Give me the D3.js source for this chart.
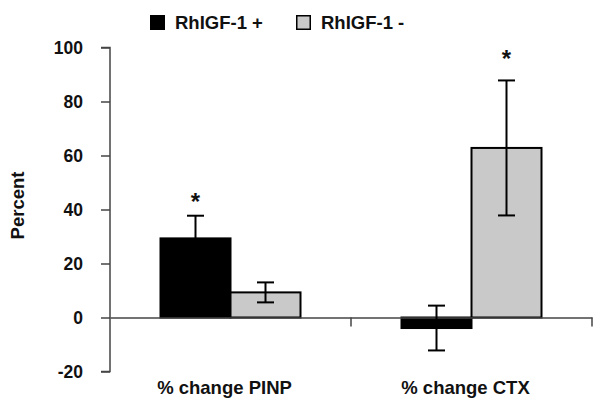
<!DOCTYPE html>
<html><head><meta charset="utf-8">
<script src="https://cdn.jsdelivr.net/npm/d3@7"></script>
<style>body{margin:0;background:#fff}svg{display:block}text{font-family:"Liberation Sans",Arial,sans-serif;font-weight:bold;fill:#111}</style>
</head><body><svg id="c" width="602" height="408"></svg>
<script>
const categories = ["% change PINP", "% change CTX"];
const seriesNames = ["RhIGF-1 +", "RhIGF-1 -"];
const seriesColors = ["#000000", "#c9c9c9"];
const meansPlus = [29.3, -3.9];
const errPlus = [8.4, 8.3];
const meansMinus = [9.3, 62.8];
const errMinus = [3.7, 25.0];
const significant = [[true, false], [false, true]]; // [category][series]
const sigMarkValue = [[44.6, null], [null, 97.6]];
const yTicks = [-20, 0, 20, 40, 60, 80, 100];
const yTickLabels = ["-20", "0", "20", "40", "60", "80", "100"];

const svg = d3.select("#c");
const x0 = d3.scaleBand().domain(categories).range([110, 592]);
const x1 = d3.scaleBand().domain(seriesNames).range([0, 140]);
const y = d3.scaleLinear().domain([-20, 100]).range([371.5, 47.5]);

const data = categories.map((c, i) => [
  {cat: c, s: seriesNames[0], v: meansPlus[i], e: errPlus[i], sig: significant[i][0], m: sigMarkValue[i][0], col: seriesColors[0]},
  {cat: c, s: seriesNames[1], v: meansMinus[i], e: errMinus[i], sig: significant[i][1], m: sigMarkValue[i][1], col: seriesColors[1]}
]).flat();
const bx = d => x0(d.cat) + (x0.bandwidth() - 140) / 2 + x1(d.s);

// y axis
const ya = svg.append("g").attr("transform", "translate(110,0)")
  .call(d3.axisLeft(y).tickValues(yTicks).tickSize(9).tickPadding(18).tickFormat((d, i) => yTickLabels[i]));
ya.select(".domain").attr("stroke", "#444").attr("stroke-width", 1.5).attr("d", `M-9,${y(100)}H0V${y(-20)}H-9`);
ya.selectAll(".tick line").attr("stroke", "#444").attr("stroke-width", 1.5);
ya.selectAll(".tick text").attr("font-size", 17.5).attr("font-family", "Liberation Sans, Arial, sans-serif").attr("font-weight", "bold").attr("fill", "#111");

// bars
svg.selectAll("rect.bar").data(data).join("rect").attr("class", "bar")
  .attr("x", bx).attr("width", x1.bandwidth())
  .attr("y", d => y(Math.max(0, d.v))).attr("height", d => Math.abs(y(d.v) - y(0)))
  .attr("fill", d => d.col).attr("stroke", "#000").attr("stroke-width", 2);

// x axis (at zero)
const xa = svg.append("g").attr("transform", `translate(0,${y(0)})`)
  .call(d3.axisBottom(x0).tickValues([]).tickSizeOuter(0));
xa.select(".domain").attr("stroke", "#444").attr("stroke-width", 1.5);
[x0.range()[0] + x0.bandwidth(), x0.range()[1]].forEach(px => {
  xa.append("line").attr("x1", px).attr("x2", px).attr("y1", 0).attr("y2", 9).attr("stroke", "#444").attr("stroke-width", 1.5);
});

// error bars
const eg = svg.selectAll("g.err").data(data).join("g").attr("class", "err");
eg.each(function(d) {
  const g = d3.select(this), cx = bx(d) + x1.bandwidth() / 2;
  const oneSided = d.s === seriesNames[0] && d.v >= 0;
  g.append("line").attr("x1", cx).attr("x2", cx)
    .attr("y1", oneSided ? y(d.v) : y(d.v - d.e)).attr("y2", y(d.v + d.e))
    .attr("stroke", "#000").attr("stroke-width", 2);
  const ends = oneSided ? [d.v + d.e] : [d.v + d.e, d.v - d.e];
  ends.forEach(v => g.append("line").attr("x1", cx - 8.5).attr("x2", cx + 8.5).attr("y1", y(v)).attr("y2", y(v))
    .attr("stroke", "#000").attr("stroke-width", 2));
  if (d.sig) g.append("text").attr("x", cx).attr("y", y(d.m) + 13).attr("text-anchor", "middle")
    .attr("font-size", 24).text("*");
});

// category labels
svg.selectAll("text.cat").data(categories).join("text").attr("class", "cat")
  .attr("x", d => x0(d) + x0.bandwidth() / 2 - 6).attr("y", 394).attr("text-anchor", "middle")
  .attr("font-size", 18.5).text(d => d);

// y label
svg.append("text").attr("transform", "translate(23.5,205.5) rotate(-90)").attr("text-anchor", "middle")
  .attr("font-size", 18.5).text("Percent");

// legend
const legX = [150, 296];
seriesNames.forEach((n, i) => {
  svg.append("rect").attr("x", legX[i] + 0.75).attr("y", 15.75).attr("width", 13.5).attr("height", 13.5)
    .attr("fill", seriesColors[i]).attr("stroke", "#000").attr("stroke-width", 1.5);
  svg.append("text").attr("x", legX[i] + 25).attr("y", 29).attr("font-size", 18.5).text(n);
});
</script></body></html>
